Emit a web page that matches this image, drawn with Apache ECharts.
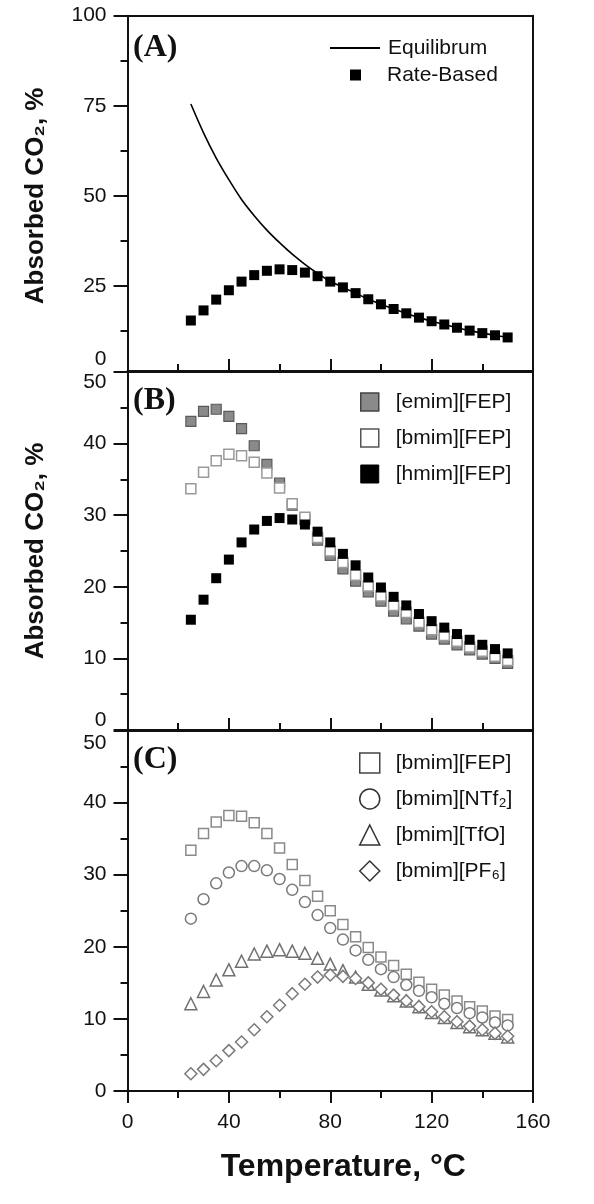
<!DOCTYPE html>
<html><head><meta charset="utf-8">
<script src="https://cdn.jsdelivr.net/npm/echarts@6/dist/echarts.min.js"></script>
<style>html,body{margin:0;padding:0;background:#fff}#c{width:594px;height:1204px}</style>
</head><body><div id="c"></div>
<script>
// ---- data ----
const temps = [25,30,35,40,45,50,55,60,65,70,75,80,85,90,95,100,105,110,115,120,125,130,135,140,145,150];
const equilibrium = [75.5,67.5,60.5,54.5,49.0,44.5,40.5,37.0,33.8,31.0,28.5,26.3,24.6,23.0,21.3,19.9,18.6,17.4,16.2,15.2,14.3,13.4,12.6,11.9,11.3,10.7];
const rateBased   = [15.4,18.2,21.2,23.8,26.2,28.0,29.2,29.6,29.4,28.7,27.7,26.2,24.6,23.0,21.3,19.9,18.6,17.4,16.2,15.2,14.3,13.4,12.6,11.9,11.3,10.7];
const emimFEP     = [43.1,44.5,44.8,43.8,42.1,39.7,37.1,34.5,31.4,29.4,26.5,24.4,22.5,20.8,19.3,18.0,16.6,15.5,14.5,13.4,12.7,11.9,11.2,10.6,10.0,9.3];
const bmimFEP_B   = [33.7,36.0,37.6,38.5,38.3,37.4,35.9,33.8,31.6,29.7,26.9,25.0,23.4,21.6,20.1,18.7,17.4,16.4,15.0,14.0,13.2,12.4,11.6,11.0,10.3,9.7];
const hmimFEP     = [15.4,18.2,21.2,23.8,26.2,28.0,29.2,29.6,29.4,28.7,27.7,26.2,24.6,23.0,21.3,19.9,18.6,17.4,16.2,15.2,14.3,13.4,12.6,11.9,11.3,10.7];
const bmimFEP_C   = [33.4,35.7,37.3,38.2,38.1,37.2,35.7,33.7,31.4,29.2,27.0,25.0,23.1,21.4,19.9,18.6,17.4,16.2,15.1,14.1,13.3,12.5,11.7,11.1,10.4,9.9];
const bmimNTf2    = [23.9,26.6,28.8,30.3,31.2,31.2,30.6,29.4,27.9,26.2,24.4,22.6,21.0,19.5,18.2,16.9,15.8,14.7,13.9,13.0,12.1,11.5,10.8,10.2,9.5,9.1];
const bmimTfO     = [12.1,13.8,15.4,16.8,18.0,19.0,19.4,19.6,19.4,19.1,18.4,17.6,16.7,15.8,14.8,14.0,13.2,12.5,11.7,10.9,10.2,9.5,8.9,8.5,8.0,7.5];
const bmimPF6     = [2.4,3.0,4.2,5.6,6.8,8.5,10.3,11.9,13.5,14.8,15.8,16.1,15.9,15.6,15.0,14.1,13.3,12.5,11.7,11.0,10.3,9.6,9.0,8.5,8.0,7.6];

const seriesNames = ['Equilibrum','Rate-Based','[emim][FEP]','[bmim][FEP]','[hmim][FEP]','[bmim][NTf₂]','[bmim][TfO]','[bmim][PF₆]'];
const panelLabels = ['(A)','(B)','(C)'];
const xRange = {min:0, max:160, interval:40};
const yA = {min:0, max:100, interval:25};
const yBC = {min:0, max:50, interval:10};
const yTitle = 'Absorbed CO₂, %';
const xTitle = 'Temperature, °C';

// ---- styling ----
const FONT = "'Liberation Sans', Arial, 'DejaVu Sans', sans-serif";
const SERIF = "'Liberation Serif', 'Times New Roman', serif";
const AX = '#111';
const pairs = arr => temps.map((t, i) => [t, arr[i]]);
const lbl = {fontSize:21, color:'#111', fontFamily:FONT};

function xBottom(g, inside, showLabels, name) {
  const o = {type:'value', gridIndex:g, position:'bottom', min:xRange.min, max:xRange.max, interval:xRange.interval,
    axisLine:{show:true, onZero:false, lineStyle:{color:AX, width:2}},
    axisTick:{show:true, inside:inside, length:12, lineStyle:{color:AX, width:2}},
    minorTick:{show:true, splitNumber:2, length:7, lineStyle:{color:AX, width:2}},
    splitLine:{show:false}, minorSplitLine:{show:false},
    axisLabel:Object.assign({show:showLabels, margin:21}, lbl)};
  if (name) {
    o.name = name; o.nameLocation = 'middle'; o.nameGap = 60;
    o.nameTextStyle = {fontSize:32, fontWeight:'bold', color:'#111', fontFamily:FONT, padding:[0,0,0,26]};
  }
  return o;
}
function xTop(g) {
  return {type:'value', gridIndex:g, position:'top', min:xRange.min, max:xRange.max,
    axisLine:{show:true, onZero:false, lineStyle:{color:AX, width:2}},
    axisTick:{show:false}, axisLabel:{show:false}, splitLine:{show:false}};
}
function yLeft(g, rng, formatter, rich, name, tickVals) {
  const o = {type:'value', gridIndex:g, position:'left', min:rng.min, max:rng.max, interval:rng.interval,
    axisLine:{show:true, onZero:false, lineStyle:{color:AX, width:2}},
    axisTick:{show:true, length:14, lineStyle:{color:AX, width:2}},
    minorTick:{show:true, splitNumber:2, length:7, lineStyle:{color:AX, width:2}},
    splitLine:{show:false}, minorSplitLine:{show:false},
    axisLabel:Object.assign({margin:21, formatter:formatter, rich:rich}, lbl)};
  if (tickVals) o.axisTick.customValues = tickVals;
  if (name) {
    o.name = name; o.nameLocation = 'middle'; o.nameRotate = 90; o.nameGap = 79;
    o.nameTextStyle = {fontSize:26, fontWeight:'bold', color:'#111', fontFamily:FONT};
  }
  return o;
}
function yRight(g, rng) {
  return {type:'value', gridIndex:g, position:'right', min:rng.min, max:rng.max,
    axisLine:{show:true, onZero:false, lineStyle:{color:AX, width:2}},
    axisTick:{show:false}, axisLabel:{show:false}, splitLine:{show:false}};
}
const up = p => Object.assign({padding:[0,0,p,0]}, lbl);
const down = p => Object.assign({padding:[p,0,0,0]}, lbl);

const xA = xBottom(0, true, false); xA.offset = -5;

const legendText = Object.assign({lineHeight:24}, lbl);

const option = {
  animation:false,
  backgroundColor:'#fff',
  grid:[
    {left:127.5, right:61, top:15.7, height:360.3},
    {left:127.5, right:61, top:372, height:358},
    {left:127.5, right:61, top:730.5, height:360.5}
  ],
  xAxis:[ xA, xTop(0), xBottom(1, true, false), xTop(1), xBottom(2, false, true, xTitle), xTop(2) ],
  yAxis:[
    yLeft(0, yA, v => v === 0 ? '{u|0}' : String(v), {u:up(34)}, yTitle, [25,50,75,100]),
    yRight(0, yA),
    yLeft(1, yBC, v => v === 50 ? '{d|50}' : (v === 0 ? '{u|0}' : String(v)), {d:down(21), u:up(20)}, yTitle),
    yRight(1, yBC),
    yLeft(2, yBC, v => v === 50 ? '{d|50}' : String(v), {d:down(25)}),
    yRight(2, yBC)
  ],
  title: panelLabels.map((t, i) => ({text:t, left:133, top:[32, 385, 744][i], padding:0,
    textStyle:{fontFamily:SERIF, fontWeight:'bold', fontSize:32, color:'#111'}})),
  legend:[
    {data:[{name:seriesNames[0], itemStyle:{opacity:0}}], left:329, top:36, padding:0, itemWidth:50, itemHeight:14, selectedMode:false,
      textStyle:Object.assign({padding:[0,0,0,3]}, legendText)},
    {data:[seriesNames[1]], left:350, top:63, padding:0, itemWidth:11, itemHeight:11, selectedMode:false,
      textStyle:Object.assign({padding:[0,0,0,21]}, legendText)},
    {data:[
       {name:seriesNames[2], icon:'rect', itemStyle:{color:'#8a8a8a', borderColor:'#444', borderWidth:1.5}},
       {name:seriesNames[3], icon:'rect', itemStyle:{color:'#fff', borderColor:'#555', borderWidth:1.5}},
       {name:seriesNames[4], icon:'rect', itemStyle:{color:'#000', borderColor:'#000', borderWidth:1}}],
     left:360, top:390, padding:0, orient:'vertical', itemGap:12, itemWidth:18, itemHeight:18, selectedMode:false,
     textStyle:Object.assign({padding:[0,0,0,12]}, legendText)},
    {data:[
       {name:seriesNames[3], icon:'rect', itemStyle:{color:'#fff', borderColor:'#444', borderWidth:1.5}},
       {name:seriesNames[5], icon:'circle', itemStyle:{color:'#fff', borderColor:'#333', borderWidth:1.5}},
       {name:seriesNames[6], icon:'triangle', itemStyle:{color:'#fff', borderColor:'#333', borderWidth:1.5}},
       {name:seriesNames[7], icon:'diamond', itemStyle:{color:'#fff', borderColor:'#333', borderWidth:1.5}}],
     left:359, top:751, padding:0, orient:'vertical', itemGap:12, itemWidth:20, itemHeight:20, selectedMode:false,
     textStyle:Object.assign({padding:[0,0,0,11]}, legendText)}
  ],
  series:[
    {type:'line', name:seriesNames[0], xAxisIndex:0, yAxisIndex:0, data:pairs(equilibrium), symbol:'none', showSymbol:false, smooth:0.3,
      itemStyle:{color:'#000'}, lineStyle:{color:'#000', width:1.6}, z:2},
    {type:'scatter', name:seriesNames[1], xAxisIndex:0, yAxisIndex:0, data:pairs(rateBased), symbol:'rect', symbolSize:10,
      itemStyle:{color:'#000', opacity:1}, z:3},
    {type:'scatter', name:seriesNames[2], xAxisIndex:2, yAxisIndex:2, data:pairs(emimFEP), symbol:'rect', symbolSize:10,
      itemStyle:{color:'#8a8a8a', borderColor:'#5a5a5a', borderWidth:1.2, opacity:1}, z:2},
    {type:'scatter', name:seriesNames[3], xAxisIndex:2, yAxisIndex:2, data:pairs(bmimFEP_B), symbol:'rect', symbolSize:10,
      itemStyle:{color:'#fff', borderColor:'#999', borderWidth:1.5, opacity:1}, z:3},
    {type:'scatter', name:seriesNames[4], xAxisIndex:2, yAxisIndex:2, data:pairs(hmimFEP), symbol:'rect', symbolSize:10,
      itemStyle:{color:'#000', opacity:1}, z:4},
    {type:'scatter', name:seriesNames[3], xAxisIndex:4, yAxisIndex:4, data:pairs(bmimFEP_C), symbol:'rect', symbolSize:10,
      itemStyle:{color:'#fff', borderColor:'#8a8a8a', borderWidth:1.5, opacity:1}, z:2},
    {type:'scatter', name:seriesNames[5], xAxisIndex:4, yAxisIndex:4, data:pairs(bmimNTf2), symbol:'circle', symbolSize:11,
      itemStyle:{color:'#fff', borderColor:'#7a7a7a', borderWidth:1.5, opacity:1}, z:3},
    {type:'scatter', name:seriesNames[6], xAxisIndex:4, yAxisIndex:4, data:pairs(bmimTfO), symbol:'triangle', symbolSize:12,
      itemStyle:{color:'#fff', borderColor:'#707070', borderWidth:1.5, opacity:1}, z:4},
    {type:'scatter', name:seriesNames[7], xAxisIndex:4, yAxisIndex:4, data:pairs(bmimPF6), symbol:'diamond', symbolSize:12,
      itemStyle:{color:'#fff', borderColor:'#7a7a7a', borderWidth:1.5, opacity:1}, z:5}
  ]
};
const chart = echarts.init(document.getElementById('c'), null, {renderer:'canvas'});
chart.setOption(option);
</script></body></html>
